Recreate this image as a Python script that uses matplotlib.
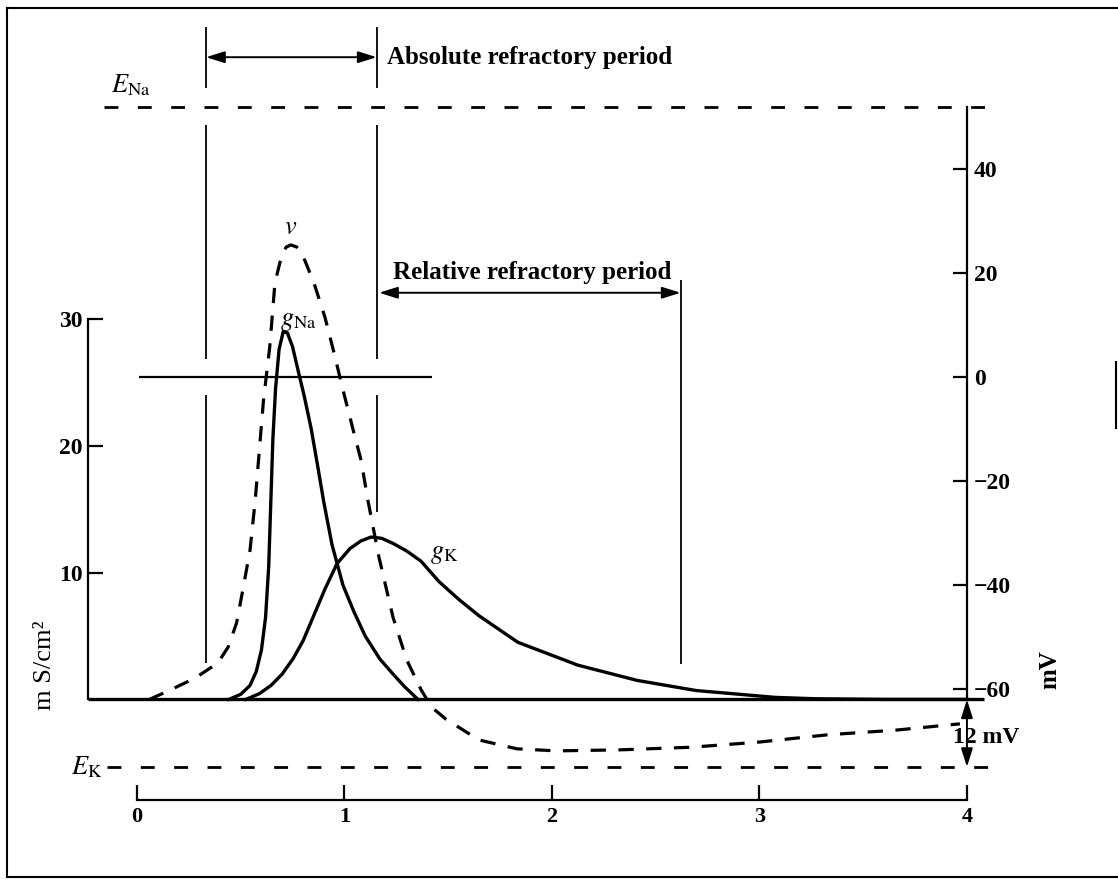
import numpy as np
import matplotlib.pyplot as plt
from matplotlib.lines import Line2D

plt.rcParams['font.family'] = ['Liberation Serif', 'DejaVu Serif']
plt.rcParams['mathtext.fontset'] = 'stix'
plt.rcParams['lines.scale_dashes'] = False

# membrane potential v (time in ms, potential in mV)
v_t = [0.06, 0.16, 0.28, 0.39, 0.44, 0.48, 0.51, 0.545, 0.57, 0.59, 0.61, 0.64, 0.665,
       0.70, 0.72, 0.742, 0.77, 0.795, 0.853, 0.906, 0.95, 0.993, 1.046, 1.08, 1.113, 1.166,
       1.234, 1.30, 1.37, 1.42, 1.489, 1.648, 1.831, 2.02, 2.33, 2.67, 3.0, 3.33, 3.66, 3.966]
v_mv = [-62, -60.2, -57.9, -55.0, -51.9, -47.3, -41.0, -33.3, -23.7, -14.0, -4.4, 5.8, 18.1,
        23.8, 25.0, 25.4, 25.0, 23.8, 18.1, 11.5, 4.6, -2.5, -10.8, -16.0, -23.7, -34.6,
        -46.2, -54.4, -60.2, -63.5, -65.8, -69.8, -71.5, -71.9, -71.7, -71.2, -70.2, -68.8, -67.9, -66.7]

# sodium conductance (mS/cm2)
gna_t = [0.443, 0.50, 0.545, 0.575, 0.60, 0.62, 0.635, 0.645, 0.655, 0.668, 0.685, 0.705,
         0.725, 0.75, 0.78, 0.805, 0.839, 0.87, 0.90, 0.94, 0.993, 1.046, 1.10, 1.17,
         1.234, 1.29, 1.354]
gna = [0, 0.4, 1.1, 2.2, 3.9, 6.5, 10.5, 15.5, 20.5, 24.5, 27.6, 29.0,
       28.9, 27.8, 25.7, 24.0, 21.4, 18.5, 15.6, 12.2, 9.0, 6.9, 5.0, 3.2,
       2.0, 1.0, 0]

# potassium conductance (mS/cm2)
gk_t = [0.525, 0.59, 0.646, 0.70, 0.752, 0.80, 0.839, 0.906, 0.964, 1.027, 1.08, 1.128,
        1.18, 1.234, 1.30, 1.369, 1.455, 1.55, 1.648, 1.836, 2.125, 2.41, 2.694, 3.075,
        3.27, 3.6, 4.0]
gk = [0, 0.45, 1.1, 2.0, 3.2, 4.6, 6.1, 8.7, 10.7, 11.9, 12.5, 12.8,
      12.7, 12.3, 11.7, 10.9, 9.3, 7.9, 6.6, 4.5, 2.7, 1.5, 0.7, 0.16,
      0.05, 0.0, 0]

E_NA = 52
E_K = -75
V_REST = -62

# refractory period boundaries (ms)
ABS_START = 0.333
ABS_END = 1.155
REL_END = 2.62

time_ticks = [0, 1, 2, 3, 4]
mv_ticks = [40, 20, 0, -20, -40, -60]
g_ticks = [10, 20, 30]

# layout
T_LIM = (-0.66, 4.728)
MV_LIM = (-97.5, 72.5)
G_PER_MV = 0.41
G_AXIS_T = -0.236
TIME_AXIS_MV = -81.3

fig = plt.figure(figsize=(11.18, 8.84), dpi=100)
ax = fig.add_axes([0, 0, 1, 1])
ax.set_xlim(*T_LIM)
ax.set_ylim(*MV_LIM)
ax.patch.set_visible(False)

ax_g = ax.twinx()
ax_g.set_ylim((MV_LIM[0] - V_REST) * G_PER_MV, (MV_LIM[1] - V_REST) * G_PER_MV)

#mV axis on the right, time axis at the bottom
ax.spines['left'].set_visible(False)
ax.spines['top'].set_visible(False)
ax.spines['right'].set_position(('data', 4.0))
ax.spines['right'].set_bounds(V_REST, E_NA)
ax.spines['bottom'].set_position(('data', TIME_AXIS_MV))
ax.spines['bottom'].set_bounds(0, 4)
for s in ('right', 'bottom'):
    ax.spines[s].set_linewidth(1.6)
ax.yaxis.tick_right()
ax.set_yticks(mv_ticks)
ax.set_yticklabels([str(m).replace('-', '\u2212') for m in mv_ticks])
ax.set_xticks(time_ticks)
ax.set_xticklabels([str(t) for t in time_ticks])
ax.tick_params(axis='y', direction='in', length=10, width=1.6, pad=5, labelsize=17)
ax.tick_params(axis='x', direction='in', length=11, width=1.6, pad=5, labelsize=16)

#conductance axis on the left
for s in ('right', 'top', 'bottom'):
    ax_g.spines[s].set_visible(False)
ax_g.spines['left'].set_position(('data', G_AXIS_T))
ax_g.spines['left'].set_bounds(0, 30)
ax_g.spines['left'].set_linewidth(1.6)
ax_g.yaxis.tick_left()
ax_g.set_yticks(g_ticks)
ax_g.set_yticklabels([str(g) for g in g_ticks])
ax_g.tick_params(axis='y', direction='in', length=11, width=1.6, pad=4, labelsize=17)

for lbl in ax.get_xticklabels() + ax.get_yticklabels() + ax_g.get_yticklabels():
    lbl.set_fontweight('bold')

#curves
ax.plot(v_t, v_mv, color='black', lw=2.3, dashes=(11, 9), solid_joinstyle='round')
ax_g.plot(gna_t, gna, color='black', lw=2.4, solid_joinstyle='round')
ax_g.plot(gk_t, gk, color='black', lw=2.4, solid_joinstyle='round')
ax_g.hlines(0, G_AXIS_T, 4.08, color='black', lw=2.4)

#reversal potentials
ax.hlines(E_NA, -0.16, 4.16, color='black', lw=2.0, linestyles=[(0, (10, 14))])
ax.hlines(E_K, -0.145, 4.18, color='black', lw=2.0, linestyles=[(0, (10, 14))])
ax.hlines(0, 0.01, 1.42, color='black', lw=1.6)

#refractory boundaries, broken where they cross E_Na and 0 mV
gap = 3.5
for t, bottom in ((ABS_START, -55.0), (ABS_END, -26.0)):
    ax.vlines([t, t, t], [E_NA + gap, gap, bottom], [67.3, E_NA - gap, -gap], color='black', lw=1.3)
ax.vlines(REL_END, -55.2, 18.7, color='black', lw=1.3)

arrow = dict(arrowstyle='<|-|>,head_length=0.7,head_width=0.22', color='black',
             lw=1.4, shrinkA=0, shrinkB=0, mutation_scale=16)
ax.annotate('', xy=(ABS_END, 61.5), xytext=(ABS_START, 61.5), arrowprops=arrow)
ax.annotate('', xy=(REL_END, 16.2), xytext=(ABS_END + 0.012, 16.2), arrowprops=arrow)
ax.annotate('', xy=(4.0, E_K), xytext=(4.0, V_REST), arrowprops=arrow)

ax.text(1.205, 61.5, 'Absolute refractory period', fontsize=18, fontweight='bold', ha='left', va='center')
ax.text(1.234, 20.0, 'Relative refractory period', fontsize=18, fontweight='bold', ha='left', va='center')

#labels
ax.text(-0.125, 56.2, r'$E_{\mathrm{Na}}$', fontsize=19, ha='left', va='center')
ax.text(-0.165, E_K, r'$E_{\mathrm{K}}$', fontsize=19, ha='right', va='center')
ax.text(0.742, 28.6, r'$v$', fontsize=19, ha='center', va='center')
ax.text(0.69, 10.6, r'$g_{\mathrm{Na}}$', fontsize=19, ha='left', va='center')
ax.text(1.41, -34.2, r'$g_{\mathrm{K}}$', fontsize=19, ha='left', va='center')
ax.text(3.935, -69.4, '12 mV', fontsize=17, fontweight='bold', ha='left', va='center')
ax.text(4.40, -56.3, 'mV', fontsize=18, fontweight='bold', rotation=90, ha='center', va='center')
ax.text(-0.443, -55.4, 'm S/cm\u00b2', fontsize=19, rotation=90, ha='center', va='center')

#outer frame of the scanned figure
W, H = 1118, 884
frame = dict(transform=fig.transFigure, color='black', lw=1.5)
fig.add_artist(Line2D([7 / W, 1.0], [1 - 8 / H, 1 - 8 / H], **frame))
fig.add_artist(Line2D([7 / W, 7 / W], [1 - 8 / H, 1 - 877 / H], **frame))
fig.add_artist(Line2D([7 / W, 1.0], [1 - 877 / H, 1 - 877 / H], **frame))
fig.add_artist(Line2D([1116 / W, 1116 / W], [1 - 362 / H, 1 - 428 / H], **frame))

fig.savefig('out.png', dpi=100)
